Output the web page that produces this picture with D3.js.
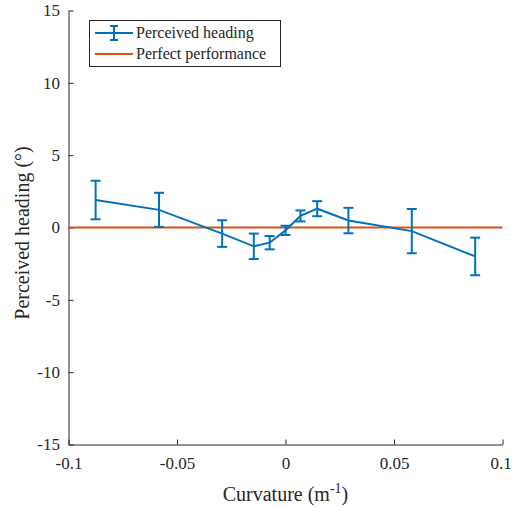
<!DOCTYPE html>
<html>
<head>
<meta charset="utf-8">
<script src="https://cdn.jsdelivr.net/npm/d3@7"></script>
<style>
  html, body { margin: 0; padding: 0; background: #fff; }
  svg { display: block; }
</style>
</head>
<body>
<svg id="chart" width="512" height="507"></svg>
<script>
// Curvature conditions (1/m)
const curvature = [-0.0875, -0.0583, -0.0292, -0.0146, -0.0073, 0, 0.0069, 0.0146, 0.029, 0.0582, 0.0874];
// Mean perceived heading (deg)
const heading = [1.9, 1.22, -0.42, -1.3, -1.05, -0.2, 0.8, 1.3, 0.48, -0.25, -2.0];
// Half-length of each error bar (deg)
const errorHalf = [1.33, 1.18, 0.92, 0.88, 0.46, 0.32, 0.38, 0.52, 0.88, 1.53, 1.3];

const xTicks = [-0.1, -0.05, 0, 0.05, 0.1];
const xTickLabels = ["-0.1", "-0.05", "0", "0.05", "0.1"];
const yTicks = [-15, -10, -5, 0, 5, 10, 15];
const yTickLabels = ["-15", "-10", "-5", "0", "5", "10", "15"];

const legendLabels = ["Perceived heading", "Perfect performance"];

const blue = "#0072BD", orange = "#D95319", axisColor = "#262626";
const serif = '"Liberation Serif", "DejaVu Serif", serif';

const svg = d3.select("#chart");
const plotLeft = 68.5, plotRight = 502.5, plotTop = 10.5, plotBottom = 444.5;

const x = d3.scaleLinear().domain([-0.1, 0.1]).range([plotLeft, plotRight]);
const y = d3.scaleLinear().domain([-15, 15]).range([plotBottom, plotTop]);

// Axes: ticks point inward, no box
const xAxis = d3.axisBottom(x).tickValues(xTicks)
  .tickFormat((d, i) => xTickLabels[i]).tickSizeInner(-5).tickSizeOuter(0).tickPadding(12);
const yAxis = d3.axisLeft(y).tickValues(yTicks)
  .tickFormat((d, i) => yTickLabels[i]).tickSizeInner(-5).tickSizeOuter(0).tickPadding(8.5);

const gx = svg.append("g").attr("transform", `translate(0,${plotBottom})`).call(xAxis);
const gy = svg.append("g").attr("transform", `translate(${plotLeft},0)`).call(yAxis);
[gx, gy].forEach(g => {
  g.attr("font-family", serif);
  g.select(".domain").attr("stroke", axisColor).attr("stroke-width", 1);
  g.selectAll(".tick line").attr("stroke", axisColor).attr("stroke-width", 1);
  g.selectAll(".tick text")
    .style("font-family", serif).style("font-size", "17px").attr("fill", axisColor);
});
// keep the last x label inside the canvas
gx.selectAll(".tick text").filter(d => d === 0.1).attr("dx", -2);

// Axis titles
const xTitle = svg.append("text").attr("x", (plotLeft + plotRight) / 2).attr("y", 501)
  .attr("text-anchor", "middle").attr("fill", axisColor)
  .style("font-family", serif).style("font-size", "20px");
xTitle.append("tspan").text("Curvature (m");
xTitle.append("tspan").style("font-size", "14px").attr("dy", -8).text("-1");
xTitle.append("tspan").attr("dy", 8).text(")");

svg.append("text").attr("transform", "translate(29,233) rotate(-90)")
  .attr("text-anchor", "middle").attr("fill", axisColor)
  .style("font-family", serif).style("font-size", "20px").text("Perceived heading (°)");

// Perfect performance reference line
svg.append("line")
  .attr("x1", x(-0.1)).attr("x2", x(0.1)).attr("y1", y(0)).attr("y2", y(0))
  .attr("stroke", orange).attr("stroke-width", 2);

// Perceived heading series with error bars
const data = curvature.map((c, i) => ({ c, h: heading[i], e: errorHalf[i] }));
svg.append("path").datum(data)
  .attr("fill", "none").attr("stroke", blue).attr("stroke-width", 2)
  .attr("d", d3.line().x(d => x(d.c)).y(d => y(d.h)));

const cap = 5;
const eb = svg.append("g").attr("stroke", blue).attr("stroke-width", 2).attr("fill", "none");
data.forEach(d => {
  const cx = x(d.c), y1 = y(d.h + d.e), y2 = y(d.h - d.e);
  eb.append("line").attr("x1", cx).attr("x2", cx).attr("y1", y1).attr("y2", y2);
  eb.append("line").attr("x1", cx - cap).attr("x2", cx + cap).attr("y1", y1).attr("y2", y1);
  eb.append("line").attr("x1", cx - cap).attr("x2", cx + cap).attr("y1", y2).attr("y2", y2);
});

// Legend
const lg = svg.append("g");
lg.append("rect").attr("x", 89.5).attr("y", 20.5).attr("width", 191).attr("height", 46)
  .attr("fill", "#fff").attr("stroke", axisColor).attr("stroke-width", 1);
const rowY = [33, 54];
lg.append("line").attr("x1", 95).attr("x2", 133).attr("y1", rowY[0]).attr("y2", rowY[0])
  .attr("stroke", blue).attr("stroke-width", 2);
lg.append("line").attr("x1", 114).attr("x2", 114).attr("y1", rowY[0] - 7).attr("y2", rowY[0] + 7)
  .attr("stroke", blue).attr("stroke-width", 2);
[-7, 7].forEach(o => lg.append("line").attr("x1", 110).attr("x2", 118)
  .attr("y1", rowY[0] + o).attr("y2", rowY[0] + o).attr("stroke", blue).attr("stroke-width", 2));
lg.append("line").attr("x1", 95).attr("x2", 133).attr("y1", rowY[1]).attr("y2", rowY[1])
  .attr("stroke", orange).attr("stroke-width", 2);
legendLabels.forEach((t, i) => lg.append("text").attr("x", 136).attr("y", rowY[i] + 5)
  .attr("fill", axisColor).style("font-family", serif).style("font-size", "16px").text(t));
</script>
</body>
</html>
